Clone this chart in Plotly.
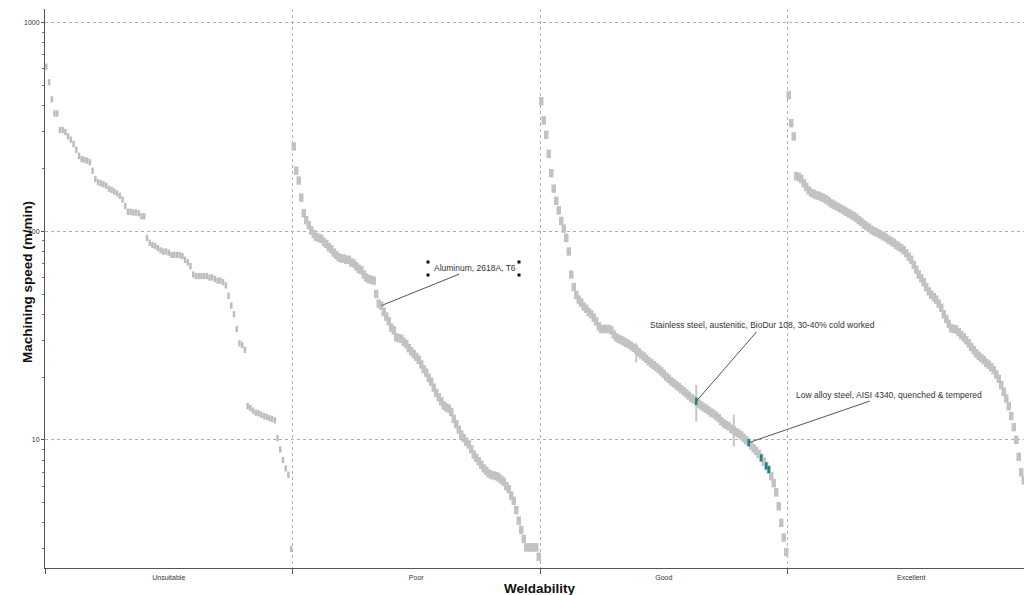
import math
import plotly.graph_objects as go

# ---------------- data ----------------
categories = ["Unsuitable", "Poor", "Good", "Excellent"]

unsuitable = [615, 518, 429, 367, 367, 306, 306, 299, 285, 275,
              262, 246, 230, 222, 220, 218, 214, 195, 178, 172,
              170, 168, 165, 160, 158, 155, 152, 148, 142, 132,
              124, 124, 123, 123, 122, 118, 118, 93, 88, 86,
              85, 83, 81, 80, 80, 79, 77, 77, 77, 77,
              76, 73, 71, 68, 62, 61, 61, 61, 61, 61,
              60, 60, 59, 58, 58, 57, 55, 49, 44, 40,
              34, 29, 28.5, 27, 14.5, 14.2, 13.8, 13.5, 13.4, 13.2,
              13.0, 12.9, 12.7, 12.6, 12.4, 10.2, 9.0, 8.0, 7.3, 6.8, 3.0]

poor = [255, 195, 175, 145, 122, 113, 107, 101, 97, 94,
        93, 92, 89, 87, 84, 82, 79, 77, 75, 74,
        74, 73, 73, 71, 70, 68, 66, 65, 62, 60,
        59, 58.5, 58, 50, 45, 44, 41, 39, 37, 34.5,
        33.5, 31, 30.7, 30.5, 29.5, 28.8, 27.5, 26.6, 25.8, 25,
        24.2, 23, 21.8, 21, 19.8, 19, 17.8, 16.8, 16, 15.3,
        14.6, 14.3, 14.1, 13.6, 12.6, 11.9, 11.2, 10.6, 10.2, 9.8,
        9.5, 9.0, 8.5, 8.2, 7.9, 7.6, 7.3, 7.1, 6.9, 6.8,
        6.75, 6.7, 6.6, 6.45, 6.3, 6.0, 5.8, 5.4, 5.1, 4.6,
        4.1, 3.7, 3.35, 3.05, 3.05, 3.05, 3.05, 3.05, 2.75]

good = [420, 340, 290, 235, 190, 160, 140, 126, 112, 103,
        93, 80, 62, 54, 49.5, 47, 45.5, 43.5, 42.5, 41,
        40, 38.5, 37, 35, 34, 34, 34, 34, 33.5, 32,
        31, 30.5, 30.1, 29.6, 29.2, 28.7, 28.2, 27.6, 27.1, 26.3,
        25.6, 25.1, 24.5, 23.8, 23.3, 22.8, 22.3, 21.8, 21.3, 20.7,
        20.1, 19.6, 19.1, 18.7, 18.3, 17.9, 17.5, 17.1, 16.7, 16.3,
        15.9, 15.6, 15.3, 14.9, 14.6, 14.3, 14.1, 13.8, 13.5, 13.3,
        13.0, 12.7, 12.3, 12.0, 11.8, 11.6, 11.3, 11.1, 10.9, 10.7,
        10.5, 10.2, 9.95, 9.7, 9.4, 9.1, 8.85, 8.55, 8.2, 7.85,
        7.5, 7.2, 6.7, 6.2, 5.6, 4.8, 4.0, 3.4, 2.9]

excellent = [450, 330, 285, 184, 182, 178, 170, 163, 157, 153,
             151, 149, 148, 146, 144, 142, 139, 136, 134, 132,
             130, 128, 126, 124, 122, 120, 118, 116, 113, 111,
             108, 106, 104, 102, 100, 99, 97.5, 96, 94.5, 93,
             91, 89.5, 88, 86, 84.5, 83, 81, 78.5, 75.5, 73,
             69, 65.5, 62, 59.5, 57, 54, 51.5, 49.6, 48.3, 47,
             45, 43, 40, 38, 36, 34.3, 34, 33.8, 32.8, 31.8,
             31, 30, 29, 27.9, 26.9, 26, 25.3, 24.7, 24.1, 23.4,
             22.9, 22.3, 21.6, 20.6, 19.6, 18.3, 17, 15.8, 14.5, 13,
             11.5, 10.0, 8.3, 7.0, 6.4, 6.1, 5.7, 5.0, 4.2]

# highlighted records (indices into the "Good" band)
highlight_good_idx = [62, 83, 88, 90, 91]
# range bars (index in Good band, low, high)
range_good_idx = [38, 62, 77]
range_low = [23.5, 12.2, 9.3]
range_high = [29.0, 18.3, 13.2]

# labels: (text, band, index, text offset px)
label_texts = ["Aluminum, 2618A, T6",
               "Stainless steel, austenitic, BioDur 108, 30-40% cold worked",
               "Low alloy steel, AISI 4340, quenched & tempered"]
label_bands = [1, 2, 2]
label_idx = [35, 62, 83]
label_dx = [94, 66, 140]
label_dy = [-38, -76, -48]

y_ticks = [10, 100, 1000]

# ---------------- figure ----------------
FONT = "Liberation Sans, Arial, sans-serif"
GREY = "#c2c2c2"
TEAL = "#138a8a"

bands = [unsuitable, poor, good, excellent]


def band_x(b, n):
    return [b + (i + 0.5) / n for i in range(n)]


fig = go.Figure()

# Unsuitable: narrow markers
fig.add_trace(go.Scatter(x=band_x(0, len(unsuitable)), y=unsuitable, mode="markers",
                         marker=dict(symbol="line-ns", size=4.5,
                                     line=dict(color="#bdbdbd", width=2.5)),
                         showlegend=False, name=categories[0]))

for b in (1, 2, 3):
    vals = bands[b]
    fig.add_trace(go.Scatter(x=band_x(b, len(vals)), y=vals, mode="markers",
                             marker=dict(symbol="line-ns", size=6,
                                         line=dict(color=GREY, width=4.5)),
                             showlegend=False, name=categories[b]))

# range bars
rx, ry = [], []
for k, i in enumerate(range_good_idx):
    xv = band_x(2, len(good))[i]
    rx += [xv, xv, None]
    ry += [range_low[k], range_high[k], None]
fig.add_trace(go.Scatter(x=rx, y=ry, mode="lines",
                         line=dict(color="#c4c4c4", width=2),
                         hoverinfo="skip", showlegend=False))

# highlighted
gx = band_x(2, len(good))
fig.add_trace(go.Scatter(x=[gx[i] for i in highlight_good_idx],
                         y=[good[i] for i in highlight_good_idx], mode="markers",
                         marker=dict(symbol="line-ns", size=5,
                                     line=dict(color=TEAL, width=2.5)),
                         showlegend=False))

annotations = []
for k, txt in enumerate(label_texts):
    b = label_bands[k]
    vals = bands[b]
    i = label_idx[k]
    xv = band_x(b, len(vals))[i]
    yv = math.log10(vals[i])
    annotations.append(dict(x=xv, y=yv, xref="x", yref="y", text=txt,
                            showarrow=True, arrowhead=0, arrowwidth=1,
                            arrowcolor="#555555", ax=label_dx[k], ay=label_dy[k],
                            standoff=0, borderpad=1,
                            font=dict(family=FONT, size=8.5, color="#333333")))
    if k == 0:
        for sx, sy in [(47, 44), (138, 44), (47, 31), (138, 31)]:
            annotations.append(dict(x=xv, y=yv, xref="x", yref="y", text=" ",
                                    showarrow=False, xshift=sx, yshift=sy,
                                    width=2, height=2, bgcolor="#111111",
                                    font=dict(size=1), borderpad=0))

# axis titles
annotations.append(dict(x=2, y=0, xref="x", yref="paper", yanchor="middle",
                        yshift=-20, text="<b>Weldability</b>", showarrow=False,
                        font=dict(family=FONT, size=13.5, color="#111111")))
annotations.append(dict(x=0, y=0.5, xref="paper", yref="paper", xshift=-27,
                        yshift=6, textangle=-90, text="<b>Machining speed (m/min)</b>",
                        showarrow=False,
                        font=dict(family=FONT, size=13.5, color="#111111")))

fig.update_layout(
    width=1024, height=595,
    margin=dict(l=45, r=0, t=9, b=27),
    paper_bgcolor="white", plot_bgcolor="white",
    font=dict(family=FONT, color="#333333"),
    annotations=annotations,
    xaxis=dict(range=[0, (1024 - 45) / 247.5], tickmode="array",
               tickvals=[0.5, 1.5, 2.5, 3.5], ticktext=categories,
               ticks="", showgrid=False, zeroline=False,
               showline=True, linecolor="#555555", linewidth=1,
               tickfont=dict(family=FONT, size=7, color="#333333"),
               ticklabelstandoff=3,
               minor=dict(tickmode="array", tickvals=[0, 1, 2, 3], ticks="outside",
                          ticklen=5, tickcolor="#555555", tickwidth=1,
                          showgrid=True, gridcolor="#b0b0b0", griddash="dot",
                          gridwidth=1)),
    yaxis=dict(type="log", range=[math.log10(2.43), math.log10(1163)],
               tickmode="array", tickvals=y_ticks,
               ticktext=[str(v) for v in y_ticks],
               ticks="outside", ticklen=3, tickcolor="#555555",
               showgrid=True, gridcolor="#b0b0b0", griddash="dot", gridwidth=1,
               zeroline=False, showline=True, linecolor="#555555", linewidth=1,
               tickfont=dict(family=FONT, size=7, color="#333333"),
               minor=dict(ticks="outside", ticklen=2, dtick="D1",
                          tickcolor="#777777", showgrid=False)),
)

fig.write_html("out.html")
